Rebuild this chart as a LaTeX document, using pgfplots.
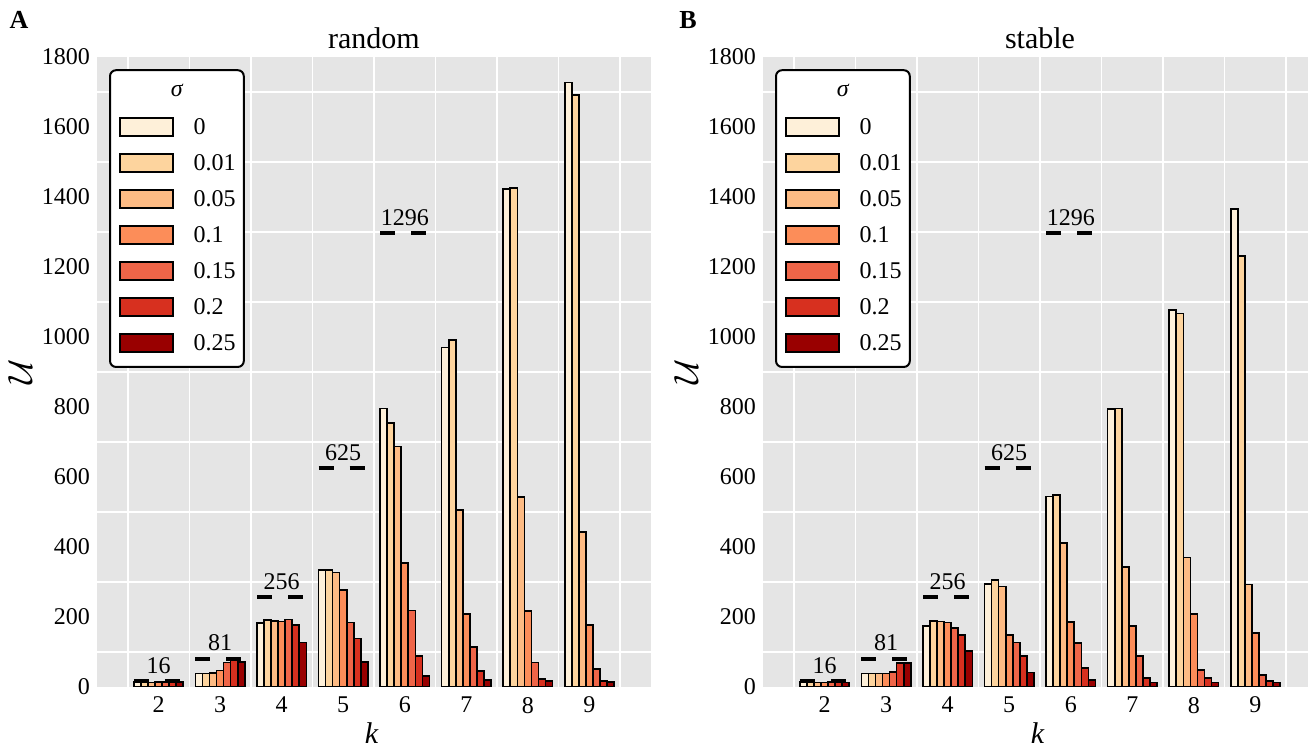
\documentclass[border=0pt]{standalone}
\usepackage{fontspec}
\setmainfont{Liberation Serif}
\usepackage{pgfplots}
\usepackage{pgfplotstable}
\pgfplotsset{compat=1.18}
\definecolor{c0}{HTML}{FEF0D9}
\definecolor{c1}{HTML}{FDD49E}
\definecolor{c2}{HTML}{FDBB84}
\definecolor{c3}{HTML}{FC8D59}
\definecolor{c4}{HTML}{EF6548}
\definecolor{c5}{HTML}{D7301F}
\definecolor{c6}{HTML}{990000}
\definecolor{bggray}{HTML}{E5E5E5}

\pgfplotstableread{
k s0 s1 s2 s3 s4 s5 s6
2 15 14 13 14 15 15 14
3 39 39 40 47 70 79 72
4 182 191 189 187 193 177 127
5 334 334 327 277 184 139 71
6 796 755 687 355 218 89 32
7 970 991 506 208 115 46 20
8 1422 1425 542 217 70 23 17
9 1727 1691 442 177 51 17 15
}\randtab

\pgfplotstableread{
k s0 s1 s2 s3 s4 s5 s6
2 14 14 13 13 14 14 13
3 39 39 39 39 42 68 69
4 174 189 187 184 168 149 103
5 294 306 287 149 127 89 41
6 544 549 412 185 125 55 20
7 794 796 342 175 89 25 13
8 1077 1067 370 208 49 25 13
9 1366 1232 293 155 34 17 13
}\stabtab

\tikzset{
 reflabel/.style={anchor=base, yshift=4pt, font=\fontsize{12}{14}\selectfont},
 legbox/.style={fill=white, line width=1pt, rounded corners=3pt},
}

\pgfplotsset{
 panel/.style={
  scale only axis, width=277pt, height=315pt,
  xmin=1, xmax=10, ymin=0, ymax=1800,
  xtick={2,...,9}, ytick={0,200,...,1800},
  minor xtick={1.5,2.5,...,9.5}, minor ytick={100,300,...,1700},
  xminorgrids, yminorgrids, minor grid style={white, line width=0.8pt},
  major tick length=0pt, minor tick length=0pt,
  axis line style={draw=none},
  axis background/.style={fill=bggray},
  tick label style={font=\fontsize{12}{14}\selectfont},
  /pgf/number format/assume math mode=true,
  /pgf/number format/1000 sep={},
  xticklabel style={yshift=-1.5pt},
  title style={font=\fontsize{15}{18}\selectfont, at={(axis description cs:0.5,1)}, anchor=base, yshift=-2pt},
  xlabel={\textit{k}}, ylabel={$\mathcal{U}$},
  xlabel style={font=\fontsize{15}{18}\selectfont, at={(axis description cs:0.496,-0.073)}, anchor=center},
  ylabel style={font=\fontsize{16}{18}\selectfont, at={(axis description cs:-0.139,0.5)}, anchor=center},
  legend style={draw=none, fill=none, at={(axis description cs:0.0397,0.9143)}, anchor=north west,
    inner sep=0pt, outer sep=0pt, row sep=0pt, column sep=10pt,
    nodes={inner sep=0pt, text height=12pt, text depth=6pt, font=\fontsize{12}{14}\selectfont}},
  legend cell align=left,
 },
 mybar/.style={ybar, bar width=3.52pt, bar shift=#1, draw=black, line width=0.8pt,
   legend image code/.code={\draw[##1] (0pt,-3.5pt) rectangle (26.5pt,5.5pt);}},
 refline/.style={forget plot, black, line width=2pt, dash pattern=on 7.5pt off 8pt},
}

\begin{document}
\begin{tikzpicture}
\useasboundingbox (0,0) rectangle (654pt,374.5pt);

% ---------- A: random ----------
\begin{axis}[panel, at={(48.5pt,31pt)}, anchor=south west, title={random}]
\addplot[mybar=-10.56pt, fill=c0] table[x=k, y=s0] {\randtab};
\addplot[mybar=-7.04pt, fill=c1] table[x=k, y=s1] {\randtab};
\addplot[mybar=-3.52pt, fill=c2] table[x=k, y=s2] {\randtab};
\addplot[mybar=0pt, fill=c3] table[x=k, y=s3] {\randtab};
\addplot[mybar=3.52pt, fill=c4] table[x=k, y=s4] {\randtab};
\addplot[mybar=7.04pt, fill=c5] table[x=k, y=s5] {\randtab};
\addplot[mybar=10.56pt, fill=c6] table[x=k, y=s6] {\randtab};
\legend{0,0.01,0.05,0.1,0.15,0.2,0.25}
\addplot[refline] coordinates {(1.6,16) (2.4,16)};
\addplot[refline] coordinates {(2.6,81) (3.4,81)};
\addplot[refline] coordinates {(3.6,256) (4.4,256)};
\addplot[refline] coordinates {(4.6,625) (5.4,625)};
\addplot[refline] coordinates {(5.6,1296) (6.4,1296)};
\node[reflabel] at (axis cs:2,16) {16};
\node[reflabel] at (axis cs:3,81) {81};
\node[reflabel] at (axis cs:4,256) {256};
\node[reflabel] at (axis cs:5,625) {625};
\node[reflabel] at (axis cs:6,1296) {1296};
\draw[legbox] (axis description cs:0.0235,0.979) rectangle (axis description cs:0.265,0.508);
\node[font=\fontsize{12}{14}\selectfont\itshape, anchor=base] at (axis description cs:0.144,0.937) {σ};
\end{axis}

% ---------- B: stable ----------
\begin{axis}[panel, at={(381.5pt,31pt)}, anchor=south west, title={stable}]
\addplot[mybar=-10.56pt, fill=c0] table[x=k, y=s0] {\stabtab};
\addplot[mybar=-7.04pt, fill=c1] table[x=k, y=s1] {\stabtab};
\addplot[mybar=-3.52pt, fill=c2] table[x=k, y=s2] {\stabtab};
\addplot[mybar=0pt, fill=c3] table[x=k, y=s3] {\stabtab};
\addplot[mybar=3.52pt, fill=c4] table[x=k, y=s4] {\stabtab};
\addplot[mybar=7.04pt, fill=c5] table[x=k, y=s5] {\stabtab};
\addplot[mybar=10.56pt, fill=c6] table[x=k, y=s6] {\stabtab};
\legend{0,0.01,0.05,0.1,0.15,0.2,0.25}
\addplot[refline] coordinates {(1.6,16) (2.4,16)};
\addplot[refline] coordinates {(2.6,81) (3.4,81)};
\addplot[refline] coordinates {(3.6,256) (4.4,256)};
\addplot[refline] coordinates {(4.6,625) (5.4,625)};
\addplot[refline] coordinates {(5.6,1296) (6.4,1296)};
\node[reflabel] at (axis cs:2,16) {16};
\node[reflabel] at (axis cs:3,81) {81};
\node[reflabel] at (axis cs:4,256) {256};
\node[reflabel] at (axis cs:5,625) {625};
\node[reflabel] at (axis cs:6,1296) {1296};
\draw[legbox] (axis description cs:0.0235,0.979) rectangle (axis description cs:0.265,0.508);
\node[font=\fontsize{12}{14}\selectfont\itshape, anchor=base] at (axis description cs:0.144,0.937) {σ};
\end{axis}

\node[font=\bfseries\fontsize{13}{15}\selectfont] at (9.5pt,364.5pt) {A};
\node[font=\bfseries\fontsize{13}{15}\selectfont] at (344pt,364.5pt) {B};
\end{tikzpicture}
\end{document}
